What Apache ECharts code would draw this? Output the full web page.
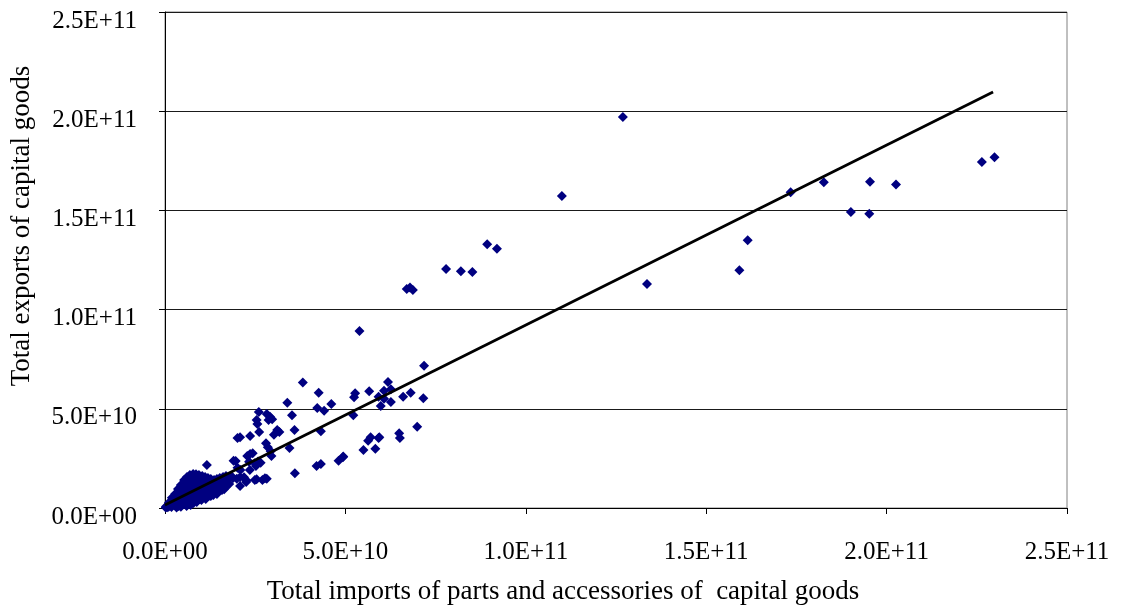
<!DOCTYPE html>
<html>
<head>
<meta charset="utf-8">
<script src="https://cdn.jsdelivr.net/npm/echarts@6/dist/echarts.min.js"></script>
<style>
html,body{margin:0;padding:0;background:#fff;}
#chart{width:1121px;height:610px;}
</style>
</head>
<body>
<div id="chart"></div>
<script>
// Values in billions (1E+09) : [imports of parts & accessories, exports of capital goods]
const outlierPoints = [
  [126.9,197.1],[110.0,157.3],[133.6,112.9],[159.2,119.8],[161.5,134.9],[173.4,159.1],
  [182.6,164.2],[190.1,149.2],[195.2,148.3],[195.4,164.5],[202.6,163.0],[226.4,174.4],[229.9,176.8]
];
const midPoints = [
  [89.3,132.9],[92.0,130.7],[77.9,120.5],[82.0,119.3],[85.2,118.9],[67.0,110.4],[67.9,111.2],[68.7,109.9],
  [53.9,89.2],[71.8,71.7],[61.8,63.5],[56.6,58.8],[52.7,57.8],[52.4,55.8],[60.7,59.1],[62.6,59.8],
  [59.2,56.1],[60.7,55.1],[62.6,53.4],[59.8,51.4],[66.0,56.1],[68.1,58.1],[71.6,55.3],[46.1,52.4],
  [52.2,46.7],[69.9,41.0],[64.9,37.7],[65.1,35.3],[59.2,35.3],[57.0,35.6],[56.3,33.9],[58.3,29.9],
  [55.0,29.2],[49.4,25.9],[48.1,23.8],[38.2,63.2],[42.6,58.1],[33.9,53.1],[42.2,50.4],[44.1,49.0],
  [26.0,48.4],[28.2,47.4],[29.1,46.0],[29.7,44.7],[28.7,44.4],[25.4,44.4],[25.6,42.3],[35.2,46.7],
  [23.6,36.3],[26.1,38.3],[30.2,36.9],[31.1,39.3],[31.7,38.3],[35.9,39.3],[43.2,38.7],[28.0,32.6],
  [28.5,30.6],[34.5,30.2],[29.5,26.2],[23.6,27.2],[22.8,26.2],[24.3,27.6],[25.8,23.5],[25.2,21.2],
  [26.5,22.8],[42.0,21.2],[43.2,22.2],[49.3,25.6],[59.4,35.6],[20.8,35.6],[20.1,35.3],[19.6,23.7],
  [20.1,20.3],[23.3,23.3],[24.9,22.5],[27.0,14.1],[24.9,14.1],[27.7,15.0],[22.6,13.8],[20.8,15.5],
  [36.0,17.5],[16.4,9.4],[11.6,21.7],[23.5,19.2],[18.4,16.1],[19.9,14.8],[21.9,15.5],[22.5,13.1],
  [20.8,11.1],[25.4,14.5],[28.2,14.8],[29.3,28.6],[19.0,23.8],[18.8,15.0],[20.9,19.2],[15.8,9.1]
];
const clusterPoints = [
  [0.3,0.8],[0.2,0.2],[0.6,0.4],[1.1,2.8],[1.0,0.6],[1.5,1.2],[1.9,5.2],[2.0,3.1],[1.8,0.5],
  [2.8,7.0],[2.7,4.0],[2.9,1.1],[3.2,0.3],[3.6,9.6],[3.7,6.4],[3.5,3.4],[3.8,1.0],[4.4,11.6],
  [4.3,9.0],[4.5,6.1],[4.6,3.0],[4.4,0.6],[5.3,14.1],[5.2,11.0],[5.4,8.1],[5.3,5.1],[5.5,2.0],
  [6.1,15.6],[6.0,12.6],[6.2,9.5],[6.1,6.6],[6.3,3.5],[6.0,1.0],[6.9,16.6],[7.0,13.6],[6.8,10.6],
  [7.0,7.5],[6.9,4.6],[7.1,1.5],[7.8,17.1],[7.7,14.1],[7.9,11.1],[7.8,8.0],[7.6,5.1],[7.9,2.5],
  [8.6,17.0],[8.5,14.6],[8.7,11.6],[8.6,8.6],[8.5,5.6],[8.8,3.0],[9.4,16.6],[9.3,13.6],[9.5,10.5],
  [9.4,7.6],[9.6,4.5],[10.3,16.1],[10.2,13.1],[10.4,10.1],[10.3,7.1],[10.1,4.0],[11.1,15.6],
  [11.0,12.6],[11.2,9.6],[11.1,6.6],[11.3,4.5],[11.9,15.1],[12.0,12.1],[11.8,9.1],[12.1,6.0],
  [12.7,14.6],[12.6,11.6],[12.8,8.6],[12.7,6.0],[13.6,14.1],[13.5,11.1],[13.7,8.1],[13.4,6.6],
  [14.4,14.6],[14.3,11.6],[14.5,9.1],[14.4,7.1],[15.2,15.1],[15.3,12.1],[15.1,9.1],[16.1,15.6],
  [16.0,12.6],[16.2,10.1],[16.9,16.1],[17.0,13.1],[16.8,10.6],[17.7,15.1],[17.8,12.1]
];
// Fitted line end points (billions)
const trendImportsBn = [0, 229.5];
const trendExportsBn = [1.5, 209.7];

const xTickLabels = ['0.0E+00','5.0E+10','1.0E+11','1.5E+11','2.0E+11','2.5E+11'];
const yTickLabels = ['0.0E+00','5.0E+10','1.0E+11','1.5E+11','2.0E+11','2.5E+11'];
const xTitle = 'Total imports of parts and accessories of  capital goods';
const yTitle = 'Total exports of capital goods';

const BN = 1e9;
const allPoints = clusterPoints.concat(midPoints, outlierPoints).map(p => [p[0]*BN, p[1]*BN]);
const trendData = trendImportsBn.map((v,i) => [v*BN, trendExportsBn[i]*BN]);

const FONT = '"Liberation Serif", "Times New Roman", serif';
const chart = echarts.init(document.getElementById('chart'), null, {renderer:'canvas'});
chart.setOption({
  animation: false,
  backgroundColor: '#ffffff',
  grid: {left:165, right:54, top:12, bottom:102, show:true, borderColor:'#808080', borderWidth:1, backgroundColor:'transparent'},
  xAxis: {
    type:'value', min:0, max:2.5e11, interval:5e10,
    axisLine:{show:true, onZero:false, lineStyle:{color:'#000', width:1}},
    axisTick:{show:true, length:6, inside:false, lineStyle:{color:'#000'}},
    splitLine:{show:false},
    axisLabel:{margin:32, color:'#000', fontSize:25, fontFamily:FONT,
      formatter: v => xTickLabels[Math.round(v/5e10)]}
  },
  yAxis: {
    type:'value', min:0, max:2.5e11, interval:5e10,
    axisLine:{show:true, onZero:false, lineStyle:{color:'#000', width:1}},
    axisTick:{show:true, length:6, inside:false, lineStyle:{color:'#000'}},
    splitLine:{show:true, lineStyle:{color:'#1a1a1a', width:1}},
    axisLabel:{margin:28, color:'#000', fontSize:25, fontFamily:FONT, verticalAlign:'top', lineHeight:18,
      formatter: v => yTickLabels[Math.round(v/5e10)]}
  },
  graphic: [
    {type:'text', x:563, y:592, style:{text:xTitle, font:'27px ' + FONT, fill:'#000', textAlign:'center', textVerticalAlign:'middle'}},
    {type:'text', x:22, y:226, rotation:Math.PI/2, style:{text:yTitle, font:'27px ' + FONT, fill:'#000', textAlign:'center', textVerticalAlign:'middle'}}
  ],
  series: [
    {type:'scatter', data:allPoints, symbol:'diamond', symbolSize:10, itemStyle:{color:'#000080', opacity:1}, z:2},
    {type:'line', data:trendData, symbol:'none', lineStyle:{color:'#000', width:2.8}, z:3}
  ]
});
</script>
</body>
</html>
